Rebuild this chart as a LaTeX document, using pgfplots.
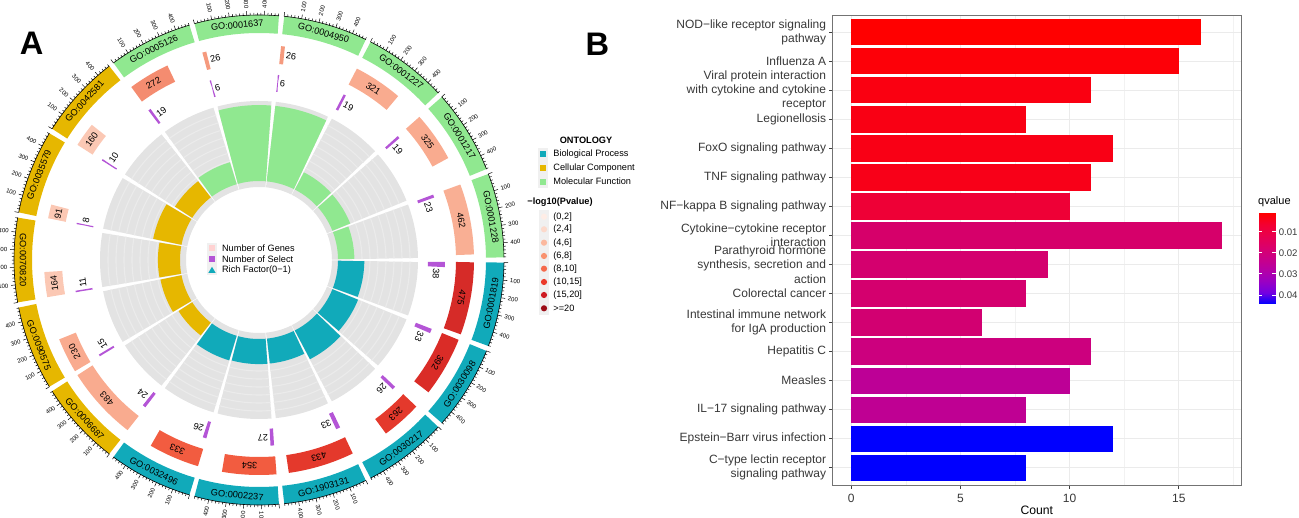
\documentclass[border=0pt]{standalone}
\usepackage{fontspec}
\setmainfont{Liberation Sans}
\usepackage{pgfplots}
\pgfplotsset{compat=1.18}

% ontology colours
\definecolor{bp}{HTML}{11AABA}
\definecolor{cc}{HTML}{E6B700}
\definecolor{mf}{HTML}{90E890}
\definecolor{trackgrey}{HTML}{E3E3E3}
\definecolor{trackline}{HTML}{EBEBEB}
\definecolor{selp}{HTML}{B455D6}
\definecolor{keybg}{HTML}{F0F0F0}
% gene box colours (-log10 p)
\definecolor{gcA}{HTML}{F59A7E}
\definecolor{gcA2}{HTML}{F48C70}
\definecolor{gcB}{HTML}{F9AB8F}
\definecolor{gcB2}{HTML}{F9AF94}
\definecolor{gcC}{HTML}{FBC8B4}
\definecolor{gcD}{HTML}{F25C40}
\definecolor{gcE}{HTML}{E4392C}
\definecolor{gcF}{HTML}{D62B28}
\definecolor{gcF2}{HTML}{DA2C27}
% p legend colours
\definecolor{p1}{HTML}{FEEDE6}
\definecolor{p2}{HTML}{FCD9CB}
\definecolor{p3}{HTML}{FBB89E}
\definecolor{p4}{HTML}{F9926F}
\definecolor{p5}{HTML}{F5694B}
\definecolor{p6}{HTML}{EB3A2B}
\definecolor{p7}{HTML}{CE1B23}
\definecolor{p8}{HTML}{9C0D17}
% bar colours panel B
\definecolor{b0}{HTML}{FF0000}
\definecolor{b1}{HTML}{FD0008}
\definecolor{b2}{HTML}{FA0011}
\definecolor{b3}{HTML}{F90014}
\definecolor{b4}{HTML}{F90015}
\definecolor{b5}{HTML}{F80018}
\definecolor{b6}{HTML}{EE0036}
\definecolor{b7}{HTML}{D6006A}
\definecolor{b8}{HTML}{D4006E}
\definecolor{b9}{HTML}{D4006E}
\definecolor{b10}{HTML}{D20071}
\definecolor{b11}{HTML}{CC007E}
\definecolor{b12}{HTML}{BD0096}
\definecolor{b13}{HTML}{BF0093}
\definecolor{b14}{HTML}{0000FF}
\definecolor{b15}{HTML}{0000FF}

\pgfplotsset{colormap={qcol}{rgb255=(255,0,0) rgb255=(244,0,49) rgb255=(232,0,79) rgb255=(218,0,108) rgb255=(201,0,136) rgb255=(181,0,165) rgb255=(154,0,195) rgb255=(116,0,225) rgb255=(0,0,255)}}
\pgfplotsset{bbar/.style={xbar, bar width=0.9, bar shift=0pt, draw=none, forget plot}}

% GO terms, clockwise from the top: index / id / genes / selected / ontology colour / p colour
\def\GOlist{0/GO:0001637/26/6/mf/gcA,1/GO:0004950/26/6/mf/gcA,2/GO:0001227/321/19/mf/gcB,3/GO:0001217/325/19/mf/gcB,4/GO:0001228/462/23/mf/gcB2,5/GO:0001819/475/38/bp/gcF,6/GO:0030098/392/33/bp/gcF2,7/GO:0030217/263/26/bp/gcE,8/GO:1903131/433/33/bp/gcE,9/GO:0002237/354/27/bp/gcD,10/GO:0032496/333/26/bp/gcD,11/GO:0006687/483/24/cc/gcB,12/GO:0090575/230/15/cc/gcB,13/GO:0070820/164/11/cc/gcC,14/GO:0035579/91/8/cc/gcC,15/GO:0042581/160/10/cc/gcC,16/GO:0005126/272/19/mf/gcA2}

% annular segment drawn as a thick arc through the axis
\newcommand\arcseg[5]{%
  \pgfmathsetmacro\ArcS{#1}%
  \pgfmathsetmacro\ArcE{#2}%
  \pgfmathsetmacro\ArcR{#3}%
  \pgfmathsetmacro\ArcW{0.5*(#4)}%
  \gdef\ArcPts{}%
  \foreach \k in {0,...,16}{%
    \pgfmathsetmacro\ArcT{\ArcS+(\ArcE-\ArcS)*\k/16}%
    \pgfmathsetmacro\ArcX{\ArcR*cos(\ArcT)}%
    \pgfmathsetmacro\ArcY{\ArcR*sin(\ArcT)}%
    \xdef\ArcPts{\ArcPts (\ArcX,\ArcY)}%
  }%
  \edef\ArcCmd{\noexpand\addplot[draw=#5, line width=\ArcW pt, forget plot] coordinates {\ArcPts};}%
  \ArcCmd
}

\newcommand\labfont{\fontsize{4.6}{5}\selectfont}
\newcommand\legfont{\fontsize{4.6}{5.5}\selectfont}

\newcommand\ticklab[2]{%
  \pgfmathsetmacro\TkN{mod(#1+720,360)}%
  \ifdim\TkN pt<90pt \pgfmathsetmacro\TkRot{\TkN}\def\TkAnc{west}%
  \else\ifdim\TkN pt>270pt \pgfmathsetmacro\TkRot{\TkN}\def\TkAnc{west}%
  \else \pgfmathsetmacro\TkRot{\TkN-180}\def\TkAnc{east}\fi\fi
  \node[font=\fontsize{3}{3}\selectfont, rotate=\TkRot, anchor=\TkAnc, inner sep=0.2pt] at (#1:125.6pt) {#2};%
}

\begin{document}
\begin{tikzpicture}
\useasboundingbox (0,0) rectangle (649.5pt,259pt);

% ================= Panel A =================
\begin{axis}[at={(129.5pt,129pt)}, anchor=center, x=0.5pt, y=0.5pt,
  xmin=-255, xmax=255, ymin=-255, ymax=255, hide axis, clip=false]
\foreach \i/\nm/\g/\s/\oc/\pc in \GOlist {%
  \pgfmathsetmacro\SecA{105.88235-\i*21.17647-0.6}%
  \pgfmathsetmacro\SecB{\SecA-19.97647}%
  \arcseg{\SecA}{\SecB}{236}{18}{\oc}%
  \arcseg{\SecA}{\SecB}{116}{86}{trackgrey}%
  \foreach \rr in {87,95,103,111,119,127,135,143,151}{%
    \arcseg{\SecA}{\SecB}{\rr}{1.1}{trackline}%
  }%
  \pgfmathsetmacro\RichH{329*\s/\g}%
  \arcseg{\SecA}{\SecB}{79+\RichH/2}{\RichH}{\oc}%
  \arcseg{\SecA}{\SecA-\g*0.041359}{206}{18}{\pc}%
  \arcseg{\SecA}{\SecA-\s*0.041359}{177.5}{17}{selp}%
}
\end{axis}

\begin{scope}[shift={(129.5pt,129pt)}]
\foreach \i/\nm/\g/\s/\oc/\pc in \GOlist {%
  \pgfmathsetmacro\SecA{105.88235-\i*21.17647-0.6}%
  \pgfmathsetmacro\SecB{\SecA-19.97647}%
  \draw[line width=0.3pt] (\SecA:122.5pt) arc[start angle=\SecA, end angle=\SecB, radius=122.5pt];
  \foreach \v in {0,20,...,480}{%
    \pgfmathsetmacro\TkA{\SecA-\v*0.041359}%
    \pgfmathsetmacro\TkL{ifthenelse(mod(\v,100)==0,124.6,123.6)}%
    \draw[line width=0.25pt] (\TkA:122.5pt) -- (\TkA:\TkL pt);
  }%
  \foreach \v in {100,200,300,400}{%
    \pgfmathsetmacro\TkB{\SecA-\v*0.041359}%
    \ticklab{\TkB}{\v}%
  }%
  % GO id
  \pgfmathsetmacro\MidA{\SecA-9.98824}%
  \pgfmathsetmacro\MidN{mod(\MidA+720,360)}%
  \ifdim\MidN pt<179pt \pgfmathsetmacro\MidR{\MidN-90}\else\pgfmathsetmacro\MidR{\MidN+90}\fi
  \node[font=\labfont, rotate=\MidR, inner sep=0pt] at (\MidA:118pt) {\nm};
  % gene label
  \ifnum\g<60
    \pgfmathsetmacro\LabA{\SecA-\g*0.041359-0.3}\def\LabAnc{west}%
  \else
    \pgfmathsetmacro\LabA{\SecA-\g*0.041359/2}\def\LabAnc{center}%
  \fi
  \pgfmathsetmacro\LabR{\LabA-90}%
  \node[font=\labfont, rotate=\LabR, anchor=\LabAnc, inner sep=0.3pt] at (\LabA:103pt) {\g};
  % selected label
  \pgfmathsetmacro\SelA{\SecA-\s*0.041359-0.35}%
  \pgfmathsetmacro\SelR{\SelA-90}%
  \node[font=\labfont, rotate=\SelR, anchor=west, inner sep=0.3pt] at (\SelA:88.75pt) {\s};
}
\end{scope}

% centre legend
\fill[keybg] (103.6pt,121.4pt) rectangle (108.4pt,137.4pt);
\fill[pink!70] (104.5pt,133.3pt) rectangle (107.5pt,136.3pt);
\fill[selp] (104.5pt,127.8pt) rectangle (107.5pt,130.8pt);
\fill[bp] (104.2pt,122.6pt) -- (107.8pt,122.6pt) -- (106pt,125.6pt) -- cycle;
\node[font=\legfont, anchor=west, inner sep=0pt] at (110.85pt,134.85pt) {Number of Genes};
\node[font=\legfont, anchor=west, inner sep=0pt] at (110.85pt,129.35pt) {Number of Select};
\node[font=\legfont, anchor=west, inner sep=0pt] at (110.85pt,124pt) {Rich Factor(0−1)};

% ontology legend
\node[font=\legfont\bfseries, inner sep=0pt] at (293pt,189pt) {ONTOLOGY};
\fill[keybg] (269pt,164.9pt) rectangle (274pt,185.1pt);
\fill[bp] (270pt,180.35pt) rectangle (273pt,183.35pt);
\fill[cc] (270pt,173.35pt) rectangle (273pt,176.35pt);
\fill[mf] (270pt,166.65pt) rectangle (273pt,169.65pt);
\node[font=\legfont, anchor=west, inner sep=0pt] at (276.5pt,181.85pt) {Biological Process};
\node[font=\legfont, anchor=west, inner sep=0pt] at (276.5pt,174.85pt) {Cellular Component};
\node[font=\legfont, anchor=west, inner sep=0pt] at (276.5pt,168.15pt) {Molecular Function};

% p-value legend
\node[font=\legfont\bfseries, anchor=west, inner sep=0pt] at (263.5pt,158.15pt) {−log10(Pvalue)};
\fill[keybg] (269.5pt,101.6pt) rectangle (274.5pt,153.9pt);
\foreach \yy/\cl/\tx in {150.65/p1/{(0,2]},144.35/p2/{(2,4]},137.65/p3/{(4,6]},131/p4/{(6,8]},124.65/p5/{(8,10]},118/p6/{(10,15]},111.5/p7/{(15,20]},104.85/p8/{>=20}}{%
  \fill[\cl] (272pt,\yy pt) circle[radius=1.55pt];
  \node[font=\legfont, anchor=west, inner sep=0pt] at (276.5pt,\yy pt) {\tx};
}

\node[font=\fontsize{16.3}{17}\selectfont\bfseries, inner sep=0pt] at (15.85pt,237.3pt) {A};
\node[font=\fontsize{16.3}{17}\selectfont\bfseries, inner sep=0pt] at (298.75pt,237pt) {B};

% ================= Panel B =================
\begin{axis}[
  at={(416.35pt,16.5pt)}, anchor=south west, scale only axis,
  width=204.15pt, height=235pt,
  xmin=-0.85, xmax=17.85, ymin=-0.6, ymax=15.6, y dir=reverse,
  xtick={0,5,10,15}, minor xtick={2.5,7.5,12.5,17.5},
  ytick={0,...,15},
  yticklabels={NOD−like receptor signaling\\pathway, Influenza A, Viral protein interaction\\with cytokine and cytokine\\receptor, Legionellosis, FoxO signaling pathway, TNF signaling pathway, NF−kappa B signaling pathway, Cytokine−cytokine receptor\\interaction, {Parathyroid hormone\\synthesis, secretion and\\action}, Colorectal cancer, Intestinal immune network\\for IgA production, Hepatitis C, Measles, IL−17 signaling pathway, Epstein−Barr virus infection, C−type lectin receptor\\signaling pathway},
  tick pos=left, tick align=outside, major tick length=1.8pt, minor tick length=0pt,
  tick style={draw=black!75, line width=0.5pt},
  xmajorgrids, xminorgrids, ymajorgrids,
  major grid style={draw=black!8, line width=0.55pt},
  minor grid style={draw=black!5, line width=0.3pt},
  axis line style={draw=black!55, line width=0.5pt},
  /pgf/number format/assume math mode=true,
  xticklabel style={font=\fontsize{6}{7}\selectfont, text=black!78, inner sep=0pt, anchor=north, yshift=-2.4pt},
  yticklabel style={font=\fontsize{6}{7.15}\selectfont, text=black!78, align=right, inner sep=0pt, anchor=east, xshift=-1.3pt},
  xlabel={Count},
  xlabel style={font=\fontsize{6.1}{7}\selectfont, at={(axis description cs:0.5,-0.0532)}, anchor=center, inner sep=0pt},
]
\addplot[bbar, fill=b0] coordinates {(16,0)};
\addplot[bbar, fill=b1] coordinates {(15,1)};
\addplot[bbar, fill=b2] coordinates {(11,2)};
\addplot[bbar, fill=b3] coordinates {(8,3)};
\addplot[bbar, fill=b4] coordinates {(12,4)};
\addplot[bbar, fill=b5] coordinates {(11,5)};
\addplot[bbar, fill=b6] coordinates {(10,6)};
\addplot[bbar, fill=b7] coordinates {(17,7)};
\addplot[bbar, fill=b8] coordinates {(9,8)};
\addplot[bbar, fill=b9] coordinates {(8,9)};
\addplot[bbar, fill=b10] coordinates {(6,10)};
\addplot[bbar, fill=b11] coordinates {(11,11)};
\addplot[bbar, fill=b12] coordinates {(10,12)};
\addplot[bbar, fill=b13] coordinates {(8,13)};
\addplot[bbar, fill=b14] coordinates {(12,14)};
\addplot[bbar, fill=b15] coordinates {(8,15)};
\end{axis}

% ================= colour bar (qvalue) =================
\begin{axis}[
  at={(629.15pt,107pt)}, anchor=south west, scale only axis,
  width=8.85pt, height=45.65pt, view={0}{90},
  xmin=0, xmax=1, ymin=0.00097, ymax=0.04427, y dir=reverse,
  axis line style={draw=none}, xtick=\empty,
  ytick={0.01,0.02,0.03,0.04}, scaled y ticks=false,
  ytick pos=both, yticklabel pos=right, tick align=inside, major tick length=1.8pt,
  tick style={draw=white, line width=0.45pt}, axis on top,
  colormap name=qcol, point meta min=0.00097, point meta max=0.04427,
  /pgf/number format/assume math mode=true,
  yticklabel style={font=\fontsize{4.8}{5}\selectfont, text=black!78, inner sep=0pt, xshift=1.2pt,
      /pgf/number format/.cd, fixed, fixed zerofill, precision=2},
]
\addplot3[surf, shader=interp, point meta=z, mesh/cols=2] coordinates {(0,0.00097,0.00097) (1,0.00097,0.00097) (0,0.04427,0.04427) (1,0.04427,0.04427)};
\end{axis}
\node[font=\fontsize{5.5}{6}\selectfont, anchor=west, inner sep=0pt] at (628.9pt,158pt) {qvalue};

\end{tikzpicture}
\end{document}
